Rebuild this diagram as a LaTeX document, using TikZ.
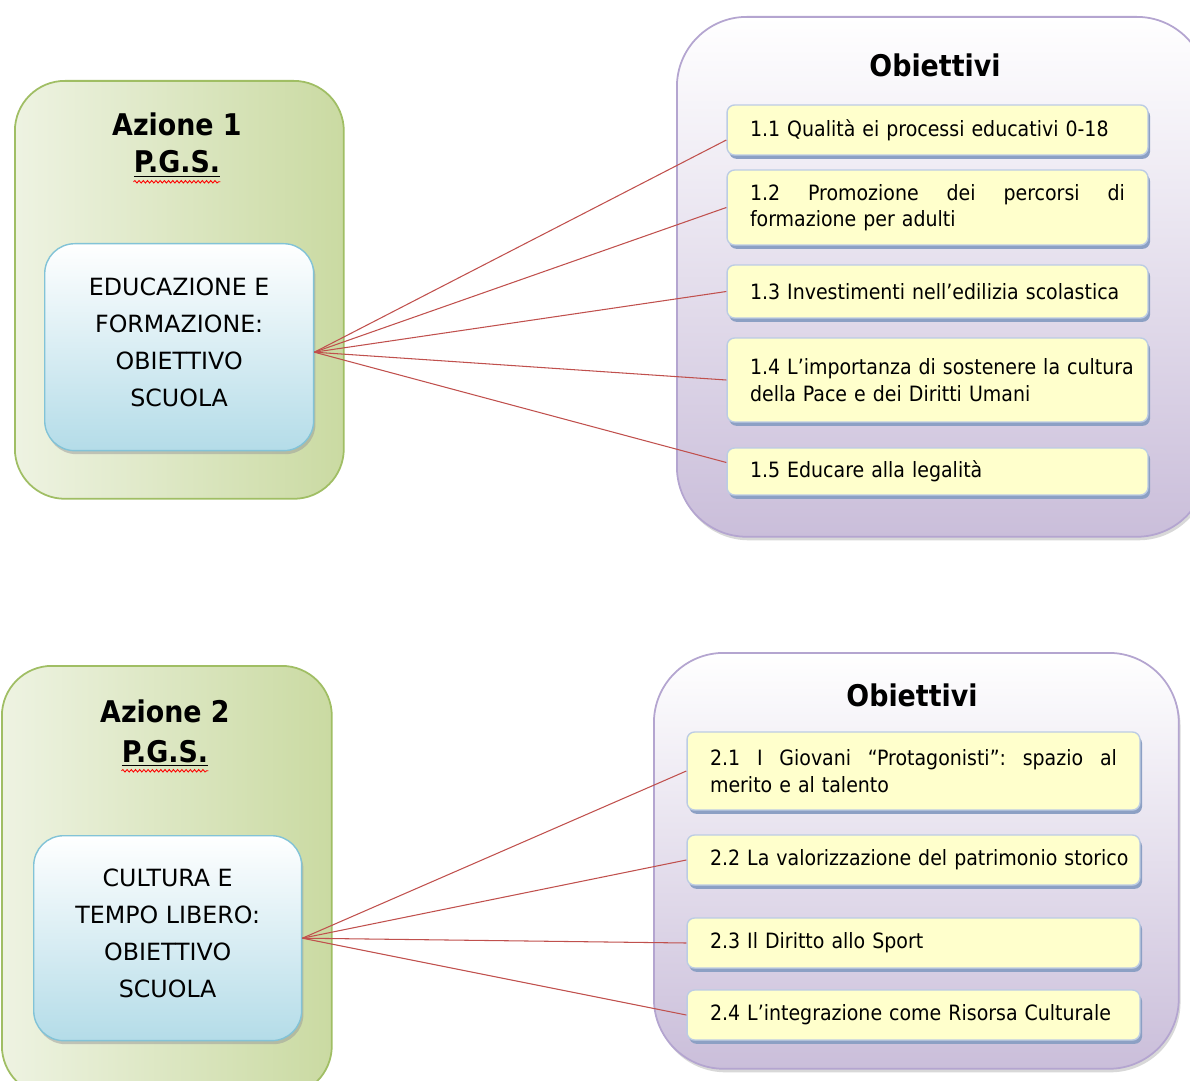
\documentclass[tikz,border=0pt]{standalone}
\usepackage{fontspec}
\setmainfont{DejaVu Sans Condensed}
\newfontfamily\capsfont{DejaVu Sans}
\usetikzlibrary{positioning}
\usetikzlibrary{shadows}
\usetikzlibrary{decorations.pathmorphing}
\definecolor{grnline}{RGB}{160,190,100}
\definecolor{grnlite}{RGB}{238,243,226}
\definecolor{grndark}{RGB}{202,218,162}
\definecolor{bluline}{RGB}{130,195,215}
\definecolor{blubot}{RGB}{180,220,232}
\definecolor{purline}{RGB}{180,165,208}
\definecolor{purbot}{RGB}{202,190,218}
\definecolor{yelfill}{RGB}{255,255,204}
\definecolor{yelline}{RGB}{188,204,228}
\definecolor{yelshd}{RGB}{140,160,196}
\definecolor{linkred}{RGB}{192,80,77}
\tikzset{azbox/.style={draw=grnline,line width=1pt,rounded corners=1cm,left color=grnlite,right color=grndark}}
\tikzset{areabox/.style={draw=bluline,line width=0.8pt,rounded corners=0.6cm,top color=white,bottom color=blubot,
  drop shadow={shadow xshift=1pt,shadow yshift=-2pt,fill=black!40,opacity=.5},
  align=center,font=\capsfont\fontsize{13.5}{21}\selectfont}}
\tikzset{objarea/.style={draw=purline,line width=1pt,rounded corners=1.4cm,top color=white,bottom color=purbot,
  drop shadow={shadow xshift=1pt,shadow yshift=-2pt,fill=black!30,opacity=.5}}}
\tikzset{objbox/.style={draw=yelline,line width=0.8pt,rounded corners=0.15cm,fill=yelfill,align=left,inner xsep=0.46cm,
  drop shadow={shadow xshift=1.2pt,shadow yshift=-2.2pt,fill=yelshd,opacity=1},
  font=\fontsize{12}{15}\selectfont}}
\tikzset{head/.style={font=\fontsize{17}{20}\selectfont\bfseries,inner sep=0pt}}
\tikzset{link/.style={draw=linkred,line width=0.6pt}}
\tikzset{spell/.style={draw=red,line width=0.5pt,decorate,decoration={snake,amplitude=0.7pt,segment length=2.4pt}}}

\begin{document}
\begin{tikzpicture}[x=0.02cm,y=-0.02cm]
\useasboundingbox (0,0) rectangle (1190,1081);
\clip (0,0) rectangle (1190,1081);

% Azione 1
\node[azbox,anchor=north west,minimum width=6.58cm,minimum height=8.36cm] (az1) at (14,80) {};
\node[head,anchor=base] (az1t) at (177,136) {Azione 1};
\node[head,anchor=base] (pgs1) at (177,173) {\underline{P.G.S.}};
\draw[spell] ([yshift=-5pt]pgs1.base west) -- ([yshift=-5pt]pgs1.base east);
\node[areabox,anchor=north west,minimum width=5.38cm,minimum height=4.14cm] (area1) at (44,243)
  {EDUCAZIONE E\\FORMAZIONE:\\OBIETTIVO\\SCUOLA\\[-15pt]};

\node[objarea,anchor=north west,minimum width=10.6cm,minimum height=10.4cm] (obj1) at (676,16) {};
\node[head] (obj1t) at (935,65) {Obiettivi};
\node[objbox,text width=7.5cm,minimum height=1.0cm] (o11) at (937.5,130) {1.1 Qualità ei processi educativi 0-18};
\node[objbox,text width=7.5cm,minimum height=1.5cm] (o12) at (937.5,207.5)
  {1.2\hfill Promozione\hfill dei\hfill percorsi\hfill di\\formazione per adulti};
\node[objbox,text width=7.5cm,minimum height=1.06cm] (o13) at (937.5,291.5) {\mbox{1.3 Investimenti nell’edilizia scolastica}};
\node[objbox,text width=7.5cm,minimum height=1.68cm] (o14) at (937.5,380)
  {\mbox{1.4 L’importanza di sostenere la cultura}\\della Pace e dei Diritti Umani};
\node[objbox,text width=7.5cm,minimum height=0.94cm] (o15) at (937.5,471.5) {1.5 Educare alla legalità};

\draw[link] ([yshift=-0.1cm]area1.east) -- ([yshift=-0.2cm]o11.west);
\draw[link] ([yshift=-0.1cm]area1.east) -- (o12.west);
\draw[link] ([yshift=-0.1cm]area1.east) -- (o13.west);
\draw[link] ([yshift=-0.1cm]area1.east) -- (o14.west);
\draw[link] ([yshift=-0.1cm]area1.east) -- ([yshift=0.18cm]o15.west);

% Azione 2
\node[azbox,anchor=north west,minimum width=6.6cm,minimum height=8.6cm] (az2) at (1,665) {};
\node[head,anchor=base] (az2t) at (165,722) {Azione 2};
\node[head,anchor=base] (pgs2) at (165,762) {\underline{P.G.S.}};
\draw[spell] ([yshift=-5pt]pgs2.base west) -- ([yshift=-5pt]pgs2.base east);
\node[areabox,anchor=north west,minimum width=5.36cm,minimum height=4.1cm] (area2) at (33,835)
  {CULTURA E\\TEMPO LIBERO:\\OBIETTIVO\\SCUOLA\\[-15pt]};

\node[objarea,anchor=north west,minimum width=10.5cm,minimum height=8.32cm] (obj2) at (653,652) {};
\node[head] (obj2t) at (912,695) {Obiettivi};
\node[objbox,text width=8.14cm,minimum height=1.56cm] (o21) at (913.5,771)
  {2.1\hfill I\hfill Giovani\hfill “Protagonisti”:\hfill spazio\hfill al\\merito e al talento};
\node[objbox,text width=8.14cm,minimum height=1.0cm] (o22) at (913.5,860) {\mbox{2.2 La valorizzazione del patrimonio storico}};
\node[objbox,text width=8.14cm,minimum height=1.0cm] (o23) at (913.5,943) {2.3 Il Diritto allo Sport};
\node[objbox,text width=8.14cm,minimum height=1.0cm] (o24) at (913.5,1015) {\mbox{2.4 L’integrazione come Risorsa Culturale}};

\draw[link] (area2.east) -- (o21.west);
\draw[link] (area2.east) -- (o22.west);
\draw[link] (area2.east) -- (o23.west);
\draw[link] (area2.east) -- (o24.west);
\end{tikzpicture}
\end{document}
